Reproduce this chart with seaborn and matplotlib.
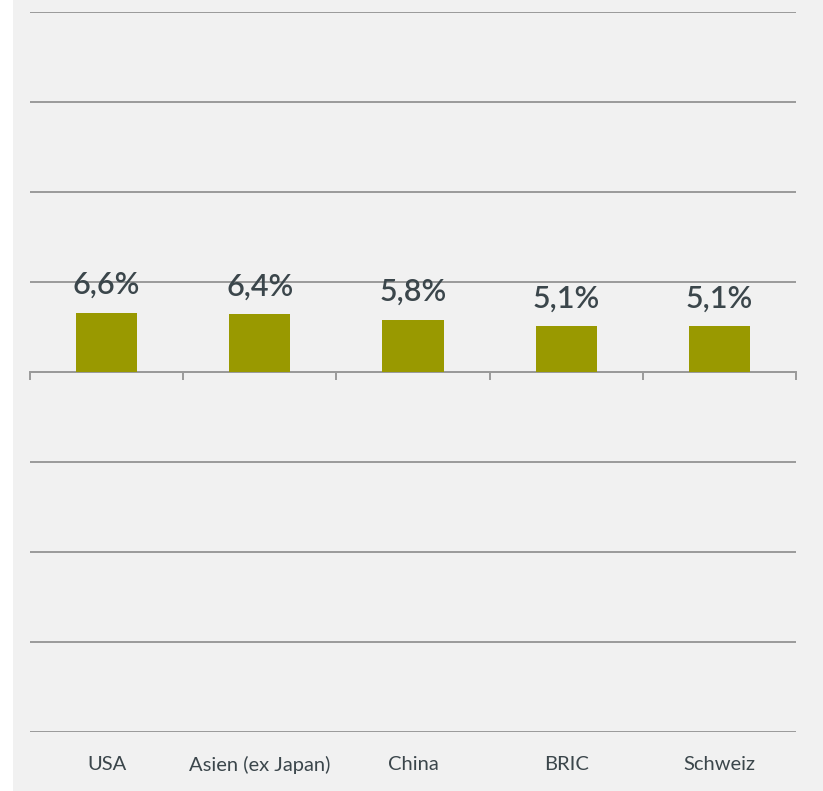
"""
Bar chart: expected returns by region
"""
# %% IMPORT LIBRARIES
import matplotlib
matplotlib.use("Agg")
import matplotlib.pyplot as plt
from matplotlib.patches import Rectangle
import pandas as pd
import seaborn as sns

# %% DATA
regions = ["USA", "Asien (ex Japan)", "China", "BRIC", "Schweiz"]
values = [6.6, 6.4, 5.8, 5.1, 5.1]
value_labels = ["6,6%", "6,4%", "5,8%", "5,1%", "5,1%"]

data = pd.DataFrame({"region": regions, "value": values})

# %% STYLE
sns.set_style("white")
plt.rcParams["font.family"] = ["Lato", "DejaVu Sans"]

bar_color = "#999900"
text_color = "#3b464b"
grid_color = "#9a9a9a"
panel_color = "#f1f1f1"

# %% PLOT
fig = plt.figure(figsize=(8.23, 7.91), dpi=100)
fig.patch.set_facecolor("white")
fig.patches.append(Rectangle((13 / 823, 0), 1, 1, transform=fig.transFigure,
                             facecolor=panel_color, edgecolor="none", zorder=-10))
ax = fig.add_axes([30 / 823, 59 / 791, 766 / 823, 720 / 791])
ax.set_facecolor("none")

sns.barplot(data=data, x="region", y="value", color=bar_color,
            width=0.4, saturation=1, linewidth=0, ax=ax, zorder=3)

ax.set_ylim(-40, 40)
ax.set_xlim(-0.5, len(regions) - 0.5)
ax.set_yticks(range(-40, 41, 10))
ax.yaxis.grid(True, color=grid_color, linewidth=1.4)
ax.set_axisbelow(True)
ax.tick_params(axis="y", left=False, labelleft=False)
ax.tick_params(axis="x", length=0, pad=17, labelsize=14.5, labelcolor=text_color)
for s in ax.spines.values():
    s.set_visible(False)
ax.set_xlabel("")
ax.set_ylabel("")

# zero line with separators between categories
zero = ax.secondary_xaxis(0.5)
for s in zero.spines.values():
    s.set_color(grid_color)
    s.set_linewidth(1.4)
zero.set_xticks([i - 0.5 for i in range(len(regions) + 1)])
zero.set_xticklabels([])
zero.tick_params(axis="x", direction="in", length=6, width=1.4,
                 color=grid_color, labelbottom=False, labeltop=False)

ax.bar_label(ax.containers[0], labels=value_labels, padding=10,
             fontsize=22, fontweight="semibold", color=text_color)

plt.savefig("out.png", dpi=100)
